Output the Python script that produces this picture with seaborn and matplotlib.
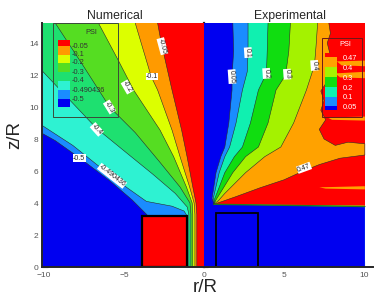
import numpy as np
import pandas as pd
import seaborn as sns
import matplotlib.pyplot as plt
from matplotlib.patches import Rectangle

# PSI levels and band colours (lowest band first)
num_levels = [-0.5, -0.490436, -0.4, -0.3, -0.2, -0.1, -0.05]
num_colors = ['#0000f0', '#1a8cff', '#2ef2d2', '#1ee070', '#55dd22', '#dcff00', '#ff9a00', '#ff0000']
exp_levels = [0.05, 0.1, 0.2, 0.3, 0.4, 0.47]
exp_colors = ['#0000f0', '#1a8cff', '#10f0b0', '#10dd10', '#a4f200', '#ffa200', '#ff0000']

# numerical side, contour lines (outer edge -> z=0)
num_r_050 = [-10.2, -9.3, -7.75, -5.9, -4.5, -3.6, -2.5, -1.1]
num_z_050 = [8.4, 7.9, 6.8, 5.4, 4.2, 3.3, 2.0, 0.0]
num_r_049 = [-10.2, -8.2, -6.7, -4.8, -3.6, -2.0, -1.25, -1.06, -1.06]
num_z_049 = [8.9, 7.6, 6.4, 4.95, 4.1, 3.8, 3.5, 3.2, 0.0]
num_r_040 = [-10.2, -8.5, -6.7, -4.8, -3.2, -1.8, -1.05, -0.95, -0.95]
num_z_040 = [12.35, 10.55, 8.65, 7.1, 5.8, 4.6, 3.75, 3.3, 0.0]
num_r_030 = [-9.3, -7.5, -5.9, -4.3, -2.8, -1.5, -0.88, -0.82, -0.82]
num_z_030 = [15.25, 12.5, 10.0, 8.4, 6.6, 5.0, 4.0, 3.3, 0.0]
num_r_020 = [-6.6, -5.4, -4.4, -2.75, -1.9, -1.1, -0.74, -0.7, -0.7]
num_z_020 = [15.25, 13.0, 11.06, 8.56, 6.9, 5.0, 4.0, 3.3, 0.0]
num_r_010 = [-4.3, -3.3, -2.9, -2.0, -1.5, -0.9, -0.62, -0.57, -0.57]
num_z_010 = [15.25, 11.9, 11.06, 8.56, 6.9, 5.0, 4.0, 3.3, 0.0]
num_r_005 = [-2.9, -2.67, -2.0, -1.4, -1.06, -0.7, -0.5, -0.45, -0.45]
num_z_005 = [15.25, 14.0, 11.06, 8.56, 6.9, 5.0, 4.0, 3.3, 0.0]

# experimental side, contour lines from the jet corner up to the top
exp_r_005 = [0.62, 0.5, 0.55, 0.75, 1.05, 1.3, 1.55, 1.75, 1.75, 1.85, 1.8]
exp_z_005 = [3.92, 4.3, 4.6, 5.9, 6.9, 7.5, 9.0, 11.06, 11.9, 13.5, 15.25]
exp_r_010 = [0.62, 0.58, 0.65, 0.95, 1.3, 1.6, 2.0, 2.4, 2.7, 2.75, 2.75]
exp_z_010 = [3.92, 4.3, 4.6, 5.9, 6.9, 7.5, 9.0, 11.06, 12.2, 13.4, 15.25]
exp_r_020 = [0.62, 0.66, 0.8, 1.3, 1.9, 2.4, 2.9, 3.4, 3.9, 3.95, 4.0]
exp_z_020 = [3.92, 4.25, 4.6, 5.9, 6.9, 7.5, 9.0, 11.06, 12.1, 13.5, 15.25]
exp_r_030 = [0.62, 0.75, 1.0, 1.8, 2.6, 3.4, 4.0, 4.5, 5.1, 5.3, 5.4]
exp_z_030 = [3.92, 4.2, 4.6, 5.9, 6.9, 7.5, 9.0, 11.06, 12.0, 13.5, 15.25]
exp_r_040 = [0.62, 0.9, 1.3, 2.6, 3.8, 4.8, 5.6, 6.4, 6.9, 7.0, 7.1]
exp_z_040 = [3.92, 4.15, 4.6, 5.9, 6.9, 7.5, 9.0, 11.06, 12.6, 13.8, 15.25]
exp_r_047 = [0.62, 1.2, 2.0, 3.5, 5.0, 6.2, 7.2, 8.5, 10.05, 10.05, 9.0, 8.2, 7.5, 7.2,
             7.6, 7.3, 7.5, 7.3, 7.7, 7.6, 7.9, 7.7, 7.9, 7.8]
exp_z_047 = [3.92, 4.12, 4.4, 4.95, 5.45, 6.0, 6.4, 6.8, 7.0, 7.7, 7.8, 7.6, 8.0, 8.6,
             9.2, 9.8, 10.4, 11.0, 11.6, 12.4, 13.2, 14.0, 14.6, 15.25]
# jet edge height at the right border for each level
exp_jet_z = [3.74, 3.76, 3.78, 3.80, 3.82, 3.85]

# orange (0.4-0.47) streaks inside the red zone
isl_r = [[8.3, 10.05, 10.05, 8.6], [8.2, 10.05, 10.05, 8.5],
         [7.7, 10.05, 10.05, 8.0], [7.2, 10.05, 10.05, 7.6]]
isl_z = [[12.85, 12.9, 12.55, 12.6], [12.1, 12.2, 11.8, 11.85],
         [9.35, 9.4, 9.15, 9.2], [4.98, 5.05, 4.85, 4.9]]

# solid bodies
num_block_r = [-3.9, -1.05]
num_block_z = [0.0, 3.2]
exp_block_r = [0.75, 3.4]
exp_block_z = [0.0, 3.4]

# inline contour labels
num_lab_txt = ['-0.05', '-0.1', '-0.2', '-0.3', '-0.4', '-0.5', '-0.490436']
num_lab_r = [-2.6, -3.25, -4.8, -5.9, -6.7, -7.8, -5.75]
num_lab_z = [13.8, 11.9, 11.25, 10.0, 8.6, 6.8, 5.7]
num_lab_rot = [-75, 0, -60, -58, -48, 0, -38]
exp_lab_txt = ['0.05', '0.1', '0.2', '0.3', '0.4', '0.47']
exp_lab_r = [1.75, 2.75, 3.9, 5.2, 6.9, 6.25]
exp_lab_z = [11.9, 13.4, 12.1, 12.05, 12.6, 6.2]
exp_lab_rot = [-86, -86, -86, -86, -86, 20]

num_r = [num_r_050, num_r_049, num_r_040, num_r_030, num_r_020, num_r_010, num_r_005]
num_z = [num_z_050, num_z_049, num_z_040, num_z_030, num_z_020, num_z_010, num_z_005]
exp_r = [exp_r_005, exp_r_010, exp_r_020, exp_r_030, exp_r_040, exp_r_047]
exp_z = [exp_z_005, exp_z_010, exp_z_020, exp_z_030, exp_z_040, exp_z_047]

sns.set_style('ticks')
plt.rcParams['font.family'] = ['Liberation Sans', 'DejaVu Sans']

W, H = 383, 303
fig = plt.figure(figsize=(W / 100, H / 100), dpi=100)
ax = fig.add_axes([42 / W, 36 / H, 331 / W, 244 / H])
x0, x1, ytop = -10.125, 10.56, 15.25
r_right = 10.05

# numerical half: blue base, then region above each level
ax.fill([x0, 0, 0, x0], [0, 0, ytop, ytop], color=num_colors[0], lw=0, zorder=1)
for r, z, c in zip(num_r, num_z, num_colors[1:]):
    pr = list(r) + [0, 0]
    pz = list(z) + [0, ytop]
    if z[0] < ytop:
        pr.append(x0 - 0.1)
        pz.append(ytop)
    ax.fill(pr, pz, color=c, lw=0, zorder=1)

# experimental half: red base, then region below each level (highest first)
ax.fill([0, r_right, r_right, 0], [0, 0, ytop, ytop], color=exp_colors[-1], lw=0, zorder=1)
for i in range(len(exp_levels) - 1, -1, -1):
    pr = [0, r_right, r_right] + exp_r[i] + [0]
    pz = [0, 0, exp_jet_z[i]] + exp_z[i] + [ytop]
    ax.fill(pr, pz, color=exp_colors[i], lw=0, zorder=1)
    if i == len(exp_levels) - 1:
        for ir, iz in zip(isl_r, isl_z):
            ax.fill(ir, iz, color=exp_colors[-2], lw=0, zorder=1)

# thin contour lines
for r, z in zip(num_r + exp_r, num_z + exp_z):
    sns.lineplot(x=r, y=z, sort=False, estimator=None, color='#2a2a2a',
                 lw=0.4, ax=ax, zorder=2)
sns.lineplot(x=[exp_r_005[0], r_right], y=[exp_z_005[0], exp_jet_z[2]], sort=False,
             estimator=None, color='#1c7a1c', lw=1.0, ax=ax, zorder=2)

# solid bodies
ax.add_patch(Rectangle((num_block_r[0], num_block_z[0]), num_block_r[1] - num_block_r[0],
                       num_block_z[1] - num_block_z[0], fc='#ff0000', ec='black', lw=1.6, zorder=3))
ax.add_patch(Rectangle((exp_block_r[0], exp_block_z[0]), exp_block_r[1] - exp_block_r[0],
                       exp_block_z[1] - exp_block_z[0], fc='none', ec='black', lw=1.3, zorder=3))

# contour labels
lab_box = dict(boxstyle='square,pad=0.05', fc='white', ec='none')
for t, r, z, rot in zip(num_lab_txt + exp_lab_txt, num_lab_r + exp_lab_r,
                        num_lab_z + exp_lab_z, num_lab_rot + exp_lab_rot):
    ax.text(r, z, t, rotation=rot, ha='center', va='center', fontsize=5,
            color='#222222', bbox=lab_box, zorder=4)

ax.set_xlim(x0, x1)
ax.set_ylim(0, ytop)
ax.set_xticks([-10, -5, 0, 5, 10])
ax.set_xticks(np.arange(-10, 11), minor=True)
ax.set_yticks(np.arange(0, 15, 2))
ax.set_yticks(np.arange(1, 16, 1), minor=True)
ax.tick_params(which='major', direction='in', length=4, width=0.8, labelsize=6,
               labelcolor='#555555')
ax.tick_params(axis='x', which='major', pad=3.5)
ax.tick_params(axis='y', which='major', pad=2.5)
ax.tick_params(which='minor', direction='in', length=2, width=0.6)
ax.set_xlabel('')
ax.set_ylabel('')
sns.despine(ax=ax)
for s in ['left', 'bottom']:
    ax.spines[s].set_linewidth(1.4)
    ax.spines[s].set_zorder(5)

# axis line at r = 0
sec = ax.secondary_yaxis((0 - x0) / (x1 - x0))
sec.set_yticks([0, 5, 10, 15])
sec.tick_params(direction='in', length=3, width=0.8, labelleft=False, labelright=False)
sec.spines['left'].set_linewidth(1.6)


def fx(px):
    return px / W


def fy(py):
    return 1 - py / H


# legends
def legend(x_box, y_box, x_blk, y_edges, colors, labels, y_lab, x_lab, tcol, ecol, psi_xy):
    fig.add_artist(Rectangle((fx(x_box[0]), fy(y_box[1])), (x_box[1] - x_box[0]) / W,
                             (y_box[1] - y_box[0]) / H, fill=False, ec=ecol, lw=0.7,
                             transform=fig.transFigure))
    fig.text(fx(psi_xy[0]), fy(psi_xy[1]), 'PSI', fontsize=5.3, color=tcol,
             ha='center', va='center')
    for k, c in enumerate(colors):
        fig.add_artist(Rectangle((fx(x_blk[0]), fy(y_edges[k + 1])), (x_blk[1] - x_blk[0]) / W,
                                 (y_edges[k + 1] - y_edges[k]) / H, fc=c, ec='none',
                                 transform=fig.transFigure))
    for t, yy in zip(labels, y_lab):
        fig.text(fx(x_lab), fy(yy), t, fontsize=5.3, color=tcol, ha='left', va='center')


legend([53, 118], [23, 117], [58, 70], [40, 46, 54.5, 63, 72, 81, 90, 99, 107],
       num_colors[::-1], [str(v) for v in num_levels[::-1]],
       [46, 54.5, 63, 72, 81, 90, 99], 72, '#333333', '#3a4a3a', (91, 32))
legend([322, 362], [38, 117], [325, 337], [53, 57, 67, 77, 87, 97, 106, 110],
       exp_colors[::-1], [str(v) for v in exp_levels[::-1]],
       [59, 69, 78.5, 88.5, 98, 107.5], 343, 'white', '#6a1a1a', (345, 45))

fig.text(fx(115), fy(16), 'Numerical', fontsize=8.8, ha='center', va='center')
fig.text(fx(290), fy(16), 'Experimental', fontsize=8.8, ha='center', va='center')
fig.text(fx(205), fy(287), 'r/R', fontsize=13.5, ha='center', va='center')
fig.text(fx(15), fy(135), 'z/R', fontsize=13.5, ha='center', va='center', rotation=90)

fig.savefig('out.png', dpi=100)
